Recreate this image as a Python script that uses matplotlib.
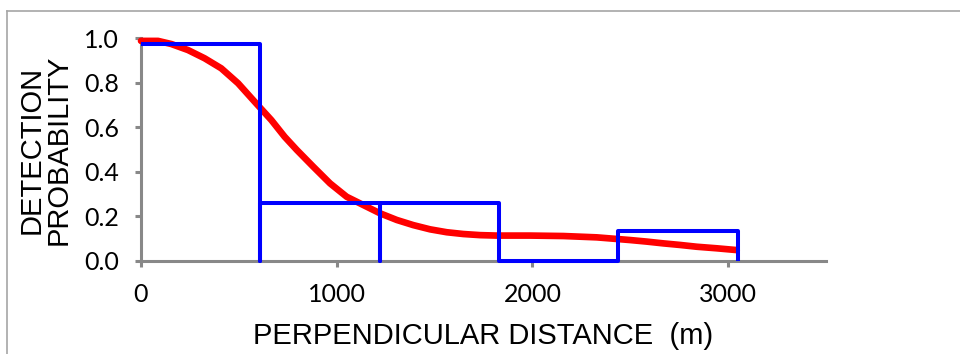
import matplotlib
matplotlib.use("Agg")
import matplotlib.pyplot as plt
from matplotlib.lines import Line2D

# ---- data ----
bin_edges = [0, 609.6, 1219.2, 1828.8, 2438.4, 3048.0]
bin_heights = [0.975, 0.262, 0.262, 0.0, 0.134]

curve_dist = [0, 87, 155, 240, 325, 410, 496, 581, 666, 734, 796, 880, 966,
              1051, 1136, 1221, 1307, 1391, 1477, 1562, 1647, 1733, 1818,
              1903, 1988, 2073, 2158, 2244, 2329, 2414, 2499, 2584, 2669,
              2754, 2839, 2941, 3044]
curve_prob = [0.987, 0.987, 0.973, 0.946, 0.909, 0.864, 0.797, 0.714, 0.632,
              0.557, 0.498, 0.423, 0.348, 0.288, 0.251, 0.214, 0.184, 0.161,
              0.142, 0.129, 0.121, 0.116, 0.114, 0.114, 0.114, 0.113, 0.112,
              0.109, 0.106, 0.100, 0.094, 0.087, 0.079, 0.072, 0.064, 0.057,
              0.049]

x_ticks = [0, 1000, 2000, 3000]
y_ticks = [0.0, 0.2, 0.4, 0.6, 0.8, 1.0]
x_label = "PERPENDICULAR DISTANCE  (m)"
y_label = "DETECTION\nPROBABILITY"

W, H, DPI = 960, 354, 100
fig = plt.figure(figsize=(W / DPI, H / DPI), dpi=DPI)
ax = fig.add_axes([141 / W, 1 - 261 / H, (826 - 141) / W, (261 - 38) / H])

gray = "#888888"

# histogram outline built from bins (no vertical at the y axis)
sx, sy = [], []
for i, h in enumerate(bin_heights):
    l, r = bin_edges[i], bin_edges[i + 1]
    if i == 0:
        sx += [l, r, r]
        sy += [h, h, 0]
    else:
        sx += [l, l, r, r]
        sy += [0, h, h, 0]

ax.plot(curve_dist, curve_prob, color="#ff0000", lw=4.8, zorder=3,
        solid_capstyle="round", solid_joinstyle="round", clip_on=False)
ax.plot(sx, sy, color="#0000ff", lw=2.9, zorder=4, solid_joinstyle="round",
        solid_capstyle="butt", clip_on=False)

ax.set_xlim(0, 3500)
ax.set_ylim(0, 1.0)
ax.set_xticks(x_ticks)
ax.set_yticks(y_ticks)
ax.set_xticklabels([str(v) for v in x_ticks])
ax.set_yticklabels([f"{v:.1f}" for v in y_ticks])

for s in ["top", "right"]:
    ax.spines[s].set_visible(False)
for s in ["left", "bottom"]:
    ax.spines[s].set_color(gray)
    ax.spines[s].set_linewidth(2.2)
    ax.spines[s].set_zorder(2.5)

ax.tick_params(axis="both", direction="out", length=4, width=2.2, color=gray,
               labelsize=18, pad=12)
for lab in ax.get_xticklabels() + ax.get_yticklabels():
    lab.set_fontfamily("Lato")

ax.set_xlabel(x_label, fontsize=21, family="Liberation Sans", labelpad=11)
ax.set_ylabel(y_label, fontsize=21, family="Liberation Sans", labelpad=8,
              linespacing=0.95)

# outer chart border (top and left visible)
border_col = "#a6a6a6"
fig.add_artist(Line2D([7 / W, 1.0], [1 - 11 / H, 1 - 11 / H],
                      transform=fig.transFigure, color=border_col, lw=1.2))
fig.add_artist(Line2D([7 / W, 7 / W], [0.0, 1 - 11 / H],
                      transform=fig.transFigure, color=border_col, lw=1.2))

fig.savefig("out.png", dpi=DPI)
